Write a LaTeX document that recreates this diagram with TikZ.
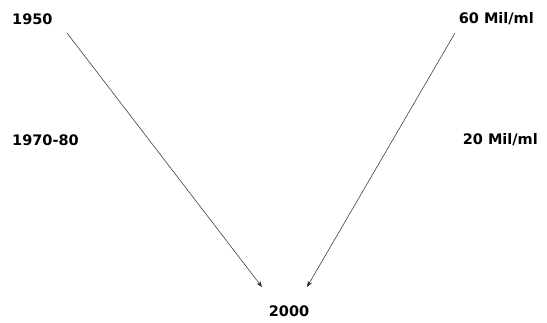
\documentclass[tikz,border=0pt]{standalone}
\usepackage{fontspec}
\setmainfont{DejaVu Sans}
\tikzset{lbl/.style={font=\bfseries\fontsize{14.5}{17}\selectfont, inner sep=0pt},
  arr/.style={-{Stealth[length=6pt,width=4.5pt]}, line width=0.5pt, draw=black!85}}
\usetikzlibrary{arrows.meta}
\begin{document}
\begin{tikzpicture}[x=1pt,y=-1pt]
\useasboundingbox (0,0) rectangle (547,322);
\node[lbl, anchor=west] (a) at (12,19) {1950};
\node[lbl, anchor=east] (b) at (534,19) {60 Mil/ml};
\node[lbl, anchor=west] (c) at (12,140) {1970-80};
\node[lbl, anchor=east] (d) at (538,140) {20 Mil/ml};
\node[lbl] (e) at (289,311) {2000};
\coordinate (s1) at (67,33);
\coordinate (t1) at (262,287);
\coordinate (s2) at (455,33);
\coordinate (t2) at (307,287);
\draw[arr] (s1) -- (t1);
\draw[arr] (s2) -- (t2);
\end{tikzpicture}
\end{document}
